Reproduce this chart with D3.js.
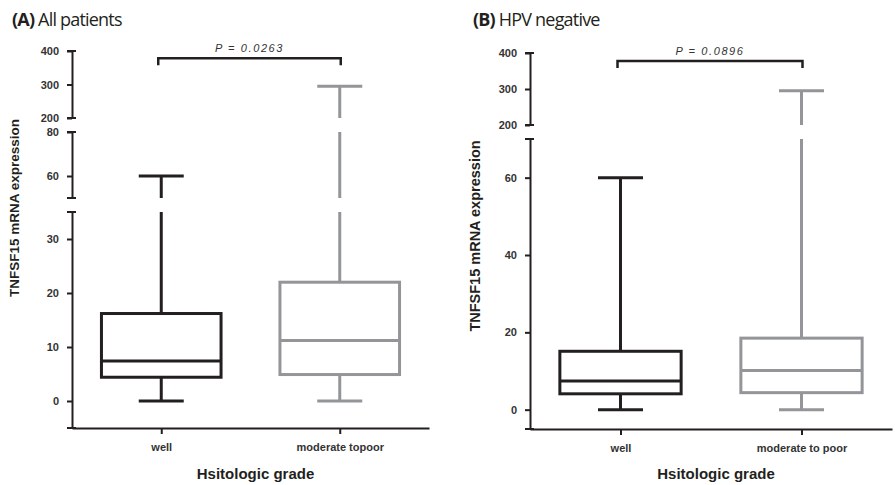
<!DOCTYPE html>
<html>
<head>
  <meta charset="utf-8">
  <title>TNFSF15 by histologic grade</title>
  <script src="https://d3js.org/d3.v7.min.js"></script>
</head>
<style>
  body {
    margin: 0;
    background: #fff;
  }
  .tick text, .xlab {
    font-family: "Liberation Sans", Arial, sans-serif;
    font-weight: bold;
    font-size: 11px;
    fill: #333;
  }
  .axis-title {
    font-family: "Liberation Sans", Arial, sans-serif;
    font-weight: bold;
    fill: #231f20;
  }
  .panel-title {
    font-family: "Open Sans", sans-serif;
    font-size: 18px;
    letter-spacing: -0.8px;
    fill: #231f20;
  }
  .pval {
    font-family: "Liberation Sans", Arial, sans-serif;
    font-style: italic;
    font-size: 11px;
    letter-spacing: 1.6px;
    fill: #333;
  }
</style>
<body>
<svg id="chart" width="895" height="485"></svg>
<script>
// categories and box stats (min, q1, median, q3, max)
const groupsA = ["well", "moderate topoor"];
const groupsB = ["well", "moderate to poor"];
const minA = [0, 0];
const q1A = [4.4, 4.9];
const medA = [7.4, 11.2];
const q3A = [16.2, 22];
const maxA = [60, 295];
const minB = [0, 0];
const q1B = [4.1, 4.4];
const medB = [7.4, 10.1];
const q3B = [15.1, 18.5];
const maxB = [60, 295];
const colors = ["#231f20", "#939598"];

// broken y axis segments: domain and ticks
const segDomainsA = [[200, 400], [50, 80], [-5, 35]];
const segTicksA = [[200, 300, 400], [60, 80], [0, 10, 20, 30]];
const segDomainsB = [[200, 400], [-5, 70]];
const segTicksB = [[200, 300, 400], [0, 20, 40, 60]];
const pValueA = "P = 0.0263";
const pValueB = "P = 0.0896";
const bracketValue = 378;

const ink = "#231f20";
const svg = d3.select("#chart");

function drawPanel(opt) {
  const g = svg.append("g");
  // one linear scale per axis segment
  const segs = opt.domains.map((dom, i) => d3.scaleLinear().domain(dom).range(opt.ranges[i]));
  const yAt = v => {
    const s = segs.find(s => v >= s.domain()[0] && v <= s.domain()[1]);
    return s ? s(v) : null;
  };
  const x = d3.scalePoint().domain(opt.groups).range([opt.x0, opt.x1]).padding(0.5);
  const boxW = x.step() * 0.67;
  const capW = 45;

  // y axis segments
  segs.forEach((s, i) => {
    const ax = g.append("g")
      .attr("transform", `translate(${opt.x0},0)`)
      .call(d3.axisLeft(s).tickValues(opt.ticks[i]).tickSize(5).tickSizeOuter(0).tickPadding(8));
    ax.select(".domain").attr("stroke", ink).attr("stroke-width", 2);
    ax.selectAll(".tick line").attr("stroke", ink).attr("stroke-width", 2);
    s.range().forEach(py => {
      ax.append("line").attr("x1", -5).attr("x2", 4).attr("y1", py).attr("y2", py)
        .attr("stroke", ink).attr("stroke-width", 2);
    });
  });

  // x axis
  const xBase = segs[segs.length - 1].range()[0];
  const xa = g.append("g")
    .attr("transform", `translate(0,${xBase})`)
    .call(d3.axisBottom(x).tickSize(6).tickSizeOuter(0).tickPadding(9));
  xa.select(".domain").attr("stroke", ink).attr("stroke-width", 2);
  xa.selectAll(".tick line").attr("stroke", ink).attr("stroke-width", 2);

  // whisker piece drawn inside each segment it crosses
  function whisker(cx, lo, hi, col) {
    segs.forEach(s => {
      const [d0, d1] = s.domain();
      const a = Math.max(lo, d0), b = Math.min(hi, d1);
      if (a < b) {
        g.append("line").attr("x1", cx).attr("x2", cx).attr("y1", s(a)).attr("y2", s(b))
          .attr("stroke", col).attr("stroke-width", 3);
      }
    });
  }

  opt.groups.forEach((name, i) => {
    const cx = x(name);
    const col = colors[i];
    whisker(cx, opt.q3[i], opt.max[i], col);
    whisker(cx, opt.min[i], opt.q1[i], col);
    [opt.min[i], opt.max[i]].forEach(v => {
      g.append("line").attr("x1", cx - capW / 2).attr("x2", cx + capW / 2)
        .attr("y1", yAt(v)).attr("y2", yAt(v)).attr("stroke", col).attr("stroke-width", 3);
    });
    g.append("rect")
      .attr("x", cx - boxW / 2).attr("width", boxW)
      .attr("y", yAt(opt.q3[i])).attr("height", yAt(opt.q1[i]) - yAt(opt.q3[i]))
      .attr("fill", "none").attr("stroke", col).attr("stroke-width", 3);
    g.append("line").attr("x1", cx - boxW / 2).attr("x2", cx + boxW / 2)
      .attr("y1", yAt(opt.med[i])).attr("y2", yAt(opt.med[i]))
      .attr("stroke", col).attr("stroke-width", 3);
  });

  // significance bracket
  const by = yAt(bracketValue);
  const bx0 = x(opt.groups[0]) - 3, bx1 = x(opt.groups[1]) + 1;
  g.append("path")
    .attr("d", `M${bx0},${by + 7}V${by}H${bx1}V${by + 7}`)
    .attr("fill", "none").attr("stroke", ink).attr("stroke-width", 2.5);
  g.append("text").attr("class", "pval")
    .attr("x", (bx0 + bx1) / 2).attr("y", by - 6)
    .attr("text-anchor", "middle").text(opt.pval);

  // titles
  const t = g.append("text").attr("class", "panel-title").attr("x", opt.titleX).attr("y", 26);
  t.append("tspan").attr("font-weight", "bold").text(opt.letter);
  t.append("tspan").text(" " + opt.title);

  g.append("text").attr("class", "axis-title")
    .attr("transform", `translate(${opt.ylabX},${opt.ylabY}) rotate(-90)`)
    .attr("text-anchor", "middle").attr("font-size", opt.ylabSize)
    .text("TNFSF15 mRNA expression");
  g.append("text").attr("class", "axis-title")
    .attr("x", (opt.x0 + opt.x1) / 2 + 5).attr("y", 479)
    .attr("text-anchor", "middle").attr("font-size", 15)
    .text("Hsitologic grade");
}

drawPanel({
  groups: groupsA, min: minA, q1: q1A, med: medA, q3: q3A, max: maxA,
  domains: segDomainsA, ticks: segTicksA,
  ranges: [[118, 51], [198, 132], [428, 212]],
  x0: 72, x1: 429, pval: pValueA,
  letter: "(A)", title: "All patients", titleX: 12,
  ylabX: 19, ylabY: 208, ylabSize: 13.5
});

drawPanel({
  groups: groupsB, min: minB, q1: q1B, med: medB, q3: q3B, max: maxB,
  domains: segDomainsB, ticks: segTicksB,
  ranges: [[125, 53], [429, 139]],
  x0: 530, x1: 892, pval: pValueB,
  letter: "(B)", title: "HPV negative", titleX: 473,
  ylabX: 480, ylabY: 236, ylabSize: 14.5
});
</script>
</body>
</html>
